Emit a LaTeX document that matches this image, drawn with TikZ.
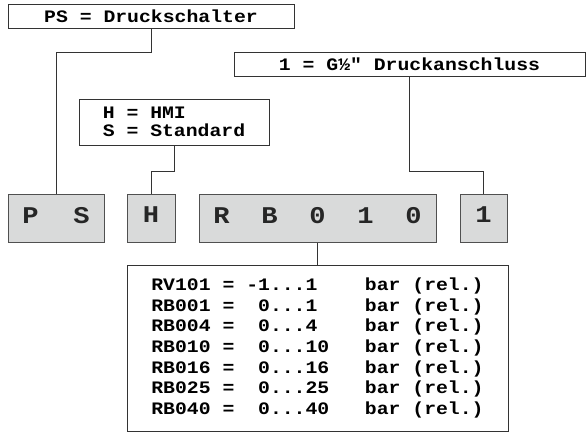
\documentclass[tikz,border=0pt]{standalone}
\usepackage{fontspec}
\newfontfamily\monofam[FakeStretch=1.13]{Liberation Mono}
\newcommand\lblsel{\monofam\bfseries\fontsize{17.5pt}{20.6pt}\selectfont\fontdimen2\font=11.87pt\fontdimen3\font=0pt\fontdimen4\font=0pt\frenchspacing}
\newcommand\codesel{\monofam\bfseries\fontsize{24pt}{28pt}\selectfont}
\definecolor{linec}{HTML}{333333}
\definecolor{codefill}{HTML}{D9DADA}
\definecolor{codeborder}{HTML}{505050}
\tikzset{
  lblbox/.style={draw=linec, line width=1pt, inner sep=0pt, font=\lblsel, text=black},
  codebox/.style={draw=codeborder, fill=codefill, line width=1pt, inner sep=0pt, font=\codesel, minimum height=48pt, text depth=6pt, text=black!85},
  conn/.style={draw=linec, line width=1pt},
}
\begin{document}
\begin{tikzpicture}[x=1pt,y=-1pt]
\useasboundingbox (0,0) rectangle (587,432);
% label boxes
\node[lblbox, minimum width=286pt, minimum height=24pt] (lblPS) at (151,16) {PS = Druckschalter};
\node[lblbox, minimum width=190pt, minimum height=46pt, align=left, font=\lblsel\fontsize{17.5pt}{18pt}\selectfont] (lblH) at (174,122) {H = HMI\\S = Standard};
\node[lblbox, minimum width=351pt, minimum height=24pt] (lblG) at (409.5,64) {1 = G½″ Druckanschluss};
% code boxes
\node[codebox, minimum width=96pt] (codePS) at (56,218) {P\hspace{34.7pt}S};
\node[codebox, minimum width=48pt] (codeH) at (151,218) {H};
\node[codebox, minimum width=237pt] (codeRB) at (317.5,218) {R\hspace{31.7pt}B\hspace{31.7pt}0\hspace{31.7pt}1\hspace{31.7pt}0};
\node[codebox, minimum width=47pt] (codeOne) at (483.5,218) {1};
% table
\node[lblbox, minimum width=381pt, minimum height=166pt, align=left] (tab) at (317.5,348)
 {RV101~=~-1...1~~~~bar~(rel.)\\
  RB001~=~~0...1~~~~bar~(rel.)\\
  RB004~=~~0...4~~~~bar~(rel.)\\
  RB010~=~~0...10~~~bar~(rel.)\\
  RB016~=~~0...16~~~bar~(rel.)\\
  RB025~=~~0...25~~~bar~(rel.)\\
  RB040~=~~0...40~~~bar~(rel.)};
% connectors
\draw[conn] (lblPS.south) -- ++(0,24) -| (codePS.north);
\draw[conn] (lblH.south) -- ++(0,26) -| (codeH.north);
\draw[conn] (lblG.south) -- ++(0,95) -| (codeOne.north);
\draw[conn] (codeRB.south) -- (tab.north);
\end{tikzpicture}
\end{document}
